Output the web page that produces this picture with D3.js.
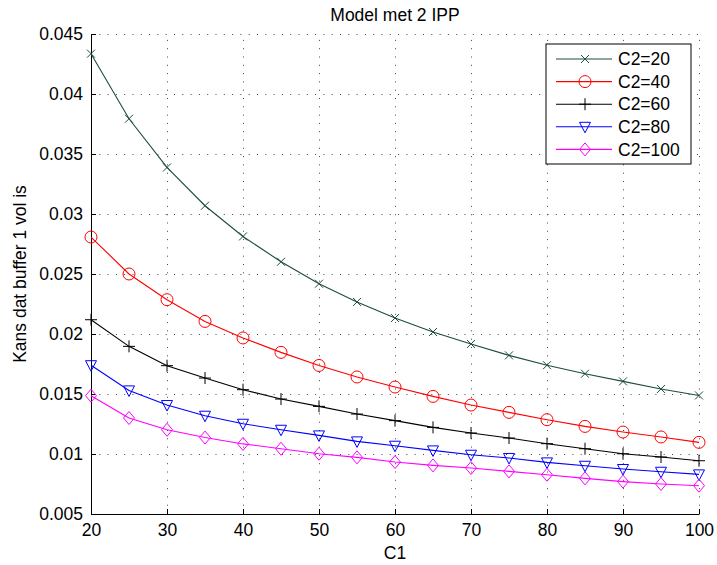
<!DOCTYPE html>
<html>
<head>
<meta charset="utf-8">
<script src="https://cdn.jsdelivr.net/npm/d3@7"></script>
<style>
  body { margin: 0; background: #fff; }
  svg { font-family: "Liberation Sans", Arial, Helvetica, sans-serif; }
</style>
</head>
<body>
<svg width="717" height="565"></svg>
<script>
const c1 = [20, 25, 30, 35, 40, 45, 50, 55, 60, 65, 70, 75, 80, 85, 90, 95, 100]

const c2_20 = [0.04336, 0.03794, 0.03388, 0.03069, 0.02813, 0.02602, 0.02419, 0.02267, 0.02133, 0.02017, 0.01917, 0.01822, 0.0174, 0.01669, 0.01605, 0.01542, 0.01488]
const c2_40 = [0.02808, 0.025, 0.02286, 0.02105, 0.01967, 0.01847, 0.01738, 0.01642, 0.01558, 0.0148, 0.01408, 0.01347, 0.01286, 0.0123, 0.01183, 0.01142, 0.01097]
const c2_60 = [0.02119, 0.01897, 0.01736, 0.01633, 0.01536, 0.01458, 0.01397, 0.01333, 0.01278, 0.01222, 0.01175, 0.01133, 0.01086, 0.01044, 0.01002, 0.00975, 0.00944]
const c2_80 = [0.0174, 0.0153, 0.01408, 0.01319, 0.01252, 0.01202, 0.01155, 0.01105, 0.01069, 0.0103, 0.00994, 0.00967, 0.0093, 0.00902, 0.00875, 0.00852, 0.0083]
const c2_100 = [0.01486, 0.013, 0.01202, 0.01137, 0.01084, 0.01044, 0.01002, 0.00972, 0.00933, 0.00905, 0.00883, 0.00855, 0.00827, 0.00797, 0.0077, 0.0075, 0.00736]

const seriesNames = ['C2=20', 'C2=40', 'C2=60', 'C2=80', 'C2=100']
const xTicks = [20, 30, 40, 50, 60, 70, 80, 90, 100]
const yTicks = [0.005, 0.01, 0.015, 0.02, 0.025, 0.03, 0.035, 0.04, 0.045]

const series = [
  { name: seriesNames[0], values: c2_20, color: '#1e4d3a', marker: 'x' },
  { name: seriesNames[1], values: c2_40, color: '#ff0000', marker: 'o' },
  { name: seriesNames[2], values: c2_60, color: '#000000', marker: '+' },
  { name: seriesNames[3], values: c2_80, color: '#0000ff', marker: 'v' },
  { name: seriesNames[4], values: c2_100, color: '#ff00ff', marker: 'd' },
]

const svg = d3.select('svg')
const margin = { left: 91, right: 18, top: 34, bottom: 51 }
const width = 717 - margin.left - margin.right
const height = 565 - margin.top - margin.bottom
const fontSize = 17.5

const x = d3.scaleLinear().domain([20, 100]).range([0, width])
const y = d3.scaleLinear().domain([0.005, 0.045]).range([height, 0])

const g = svg.append('g').attr('transform', `translate(${margin.left},${margin.top})`)

// dotted grid
const grid = g.append('g').attr('stroke', '#444').attr('stroke-width', 1)
  .attr('stroke-dasharray', '1,7.3')
grid.selectAll('.gx').data(xTicks.slice(1)).join('line')
  .attr('x1', d => x(d) + 0.5).attr('x2', d => x(d) + 0.5)
  .attr('y1', height).attr('y2', 0)
grid.selectAll('.gy').data(yTicks.slice(1)).join('line')
  .attr('y1', d => y(d) + 0.5).attr('y2', d => y(d) + 0.5)
  .attr('x1', 0).attr('x2', width)

// axes (ticks inward, MATLAB style)
const xAxis = g.append('g').attr('transform', `translate(0,${height})`)
  .call(d3.axisBottom(x).tickValues(xTicks).tickSizeInner(-5).tickSizeOuter(0).tickPadding(10))
const yAxis = g.append('g')
  .call(d3.axisLeft(y).tickValues(yTicks).tickSizeInner(-5).tickSizeOuter(0).tickPadding(12)
    .tickFormat(d => String(+d.toFixed(3))))
;[xAxis, yAxis].forEach(a => {
  a.selectAll('text').attr('font-size', fontSize).attr('fill', '#000')
    .style('font-family', '"Liberation Sans", Arial, sans-serif')
  a.select('.domain').attr('stroke', '#000')
  a.selectAll('.tick line').attr('stroke', '#000')
})
yAxis.selectAll('text').attr('dx', '4')

// lines
const line = d3.line().x((d, i) => x(c1[i])).y(d => y(d))

const markerPath = (type, s) => {
  const p = d3.path()
  if (type === 'x') {
    p.moveTo(-s, -s); p.lineTo(s, s); p.moveTo(-s, s); p.lineTo(s, -s)
  } else if (type === '+') {
    p.moveTo(-s - 1, 0); p.lineTo(s + 1, 0); p.moveTo(0, -s - 1); p.lineTo(0, s + 1)
  } else if (type === 'o') {
    p.arc(0, 0, s + 1, 0, 2 * Math.PI)
  } else if (type === 'v') {
    p.moveTo(-s - 0.5, -s + 0.5); p.lineTo(s + 0.5, -s + 0.5); p.lineTo(0, s + 1); p.closePath()
  } else if (type === 'd') {
    p.moveTo(0, -s - 1.5); p.lineTo(s + 0.5, 0); p.lineTo(0, s + 1.5); p.lineTo(-s - 0.5, 0); p.closePath()
  }
  return p.toString()
}
const markerSize = { x: 4, '+': 5, o: 5, v: 5, d: 5 }

const sg = g.selectAll('.series').data(series).join('g').attr('class', 'series')
sg.append('path')
  .attr('fill', 'none')
  .attr('stroke', d => d.color)
  .attr('stroke-width', 1.1)
  .attr('d', d => line(d.values))
sg.each(function (s) {
  d3.select(this).selectAll('.m').data(s.values).join('path')
    .attr('transform', (d, i) => `translate(${x(c1[i])},${y(d)})`)
    .attr('d', markerPath(s.marker, markerSize[s.marker]))
    .attr('fill', 'none')
    .attr('stroke', s.color)
    .attr('stroke-width', 1)
})

// title and labels
svg.append('text')
  .attr('x', margin.left + width / 2).attr('y', 21)
  .attr('text-anchor', 'middle').attr('font-size', fontSize)
  .text('Model met 2 IPP')
svg.append('text')
  .attr('x', margin.left + width / 2).attr('y', 559)
  .attr('text-anchor', 'middle').attr('font-size', fontSize)
  .text('C1')
svg.append('text')
  .attr('transform', `translate(26,${margin.top + height / 2}) rotate(-90)`)
  .attr('text-anchor', 'middle').attr('font-size', fontSize)
  .text('Kans dat buffer 1 vol is')

// legend
const lg = svg.append('g').attr('transform', 'translate(546,44)')
lg.append('rect').attr('width', 145).attr('height', 120)
  .attr('fill', '#fff').attr('stroke', '#000').attr('stroke-width', 1)
const items = lg.selectAll('.item').data(series).join('g')
  .attr('transform', (d, i) => `translate(0,${15 + i * 22.6})`)
items.append('line').attr('x1', 10).attr('x2', 66).attr('y1', 0).attr('y2', 0)
  .attr('stroke', d => d.color).attr('stroke-width', 1.1)
items.append('path')
  .attr('transform', 'translate(39,0)')
  .attr('d', d => markerPath(d.marker, markerSize[d.marker]))
  .attr('fill', 'none').attr('stroke', d => d.color)
items.append('text').attr('x', 72).attr('y', 0).attr('dy', '0.35em')
  .attr('font-size', fontSize).text(d => d.name)
</script>
</body>
</html>
